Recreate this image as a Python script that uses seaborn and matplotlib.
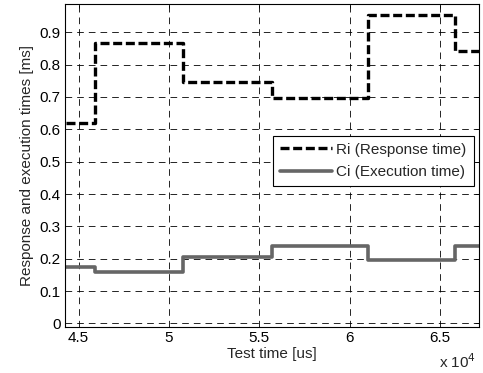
import matplotlib
matplotlib.use("Agg")
import matplotlib.pyplot as plt
import seaborn as sns
import pandas as pd

# Data (step changes, post style)
test_time = [44300, 45900, 50800, 55700, 61000, 65800, 67200]
ri_values = [0.62, 0.867, 0.745, 0.697, 0.953, 0.841, 0.841]
ci_values = [0.175, 0.160, 0.205, 0.239, 0.195, 0.239, 0.239]
x_ticks = [45000, 50000, 55000, 60000, 65000]
x_tick_labels = ["4.5", "5", "5.5", "6", "6.5"]
y_ticks = [0, 0.1, 0.2, 0.3, 0.4, 0.5, 0.6, 0.7, 0.8, 0.9]

sns.set_style("white")
plt.rcParams['font.family'] = ['Liberation Sans', 'DejaVu Sans']
FS = 11

fig = plt.figure(figsize=(4.83, 3.73), dpi=100)
ax = fig.add_axes([65/483, 1-327/373, 414/483, 323.5/373])

df = pd.DataFrame({"t": test_time, "Ri": ri_values, "Ci": ci_values})
sns.lineplot(data=df, x="t", y="Ri", ax=ax, color="black", lw=2.4,
             drawstyle="steps-post", label="Ri (Response time)",
             estimator=None, sort=False)
ax.lines[-1].set_linestyle((0, (2.7, 1.1)))
sns.lineplot(data=df, x="t", y="Ci", ax=ax, color="#666666", lw=2.6,
             drawstyle="steps-post", label="Ci (Execution time)",
             estimator=None, sort=False)

ax.set_xlim(44250, 67150)
ax.set_ylim(-0.011, 0.989)
ax.set_xticks(x_ticks)
ax.set_xticklabels(x_tick_labels)
ax.set_yticks(y_ticks)
ax.set_yticklabels([f"{v:g}" for v in y_ticks])
ax.grid(True, color="black", linestyle=(0, (8, 6)), lw=0.6)
ax.tick_params(direction="in", length=3, width=0.6, labelsize=FS, colors="black",
               top=True, right=True, pad=3)
for s in ax.spines.values():
    s.set_color("black")
    s.set_linewidth(0.8)

ax.set_xlabel("Test time [us]", fontsize=FS, labelpad=1)
ax.set_ylabel("Response and execution times [ms]", fontsize=FS, labelpad=4)
fig.text(458/483, 2/373, r"x 10$^4$", fontsize=FS, ha="center", va="bottom")

leg = ax.legend(loc="upper right", bbox_to_anchor=(0.987, 0.591), fontsize=FS,
                frameon=True, fancybox=False, edgecolor="black", framealpha=1,
                handlelength=3.4, handletextpad=0.3, borderpad=0.45, labelspacing=0.55,
                borderaxespad=0)
leg.get_frame().set_linewidth(0.8)

fig.savefig("out.png", dpi=100)
